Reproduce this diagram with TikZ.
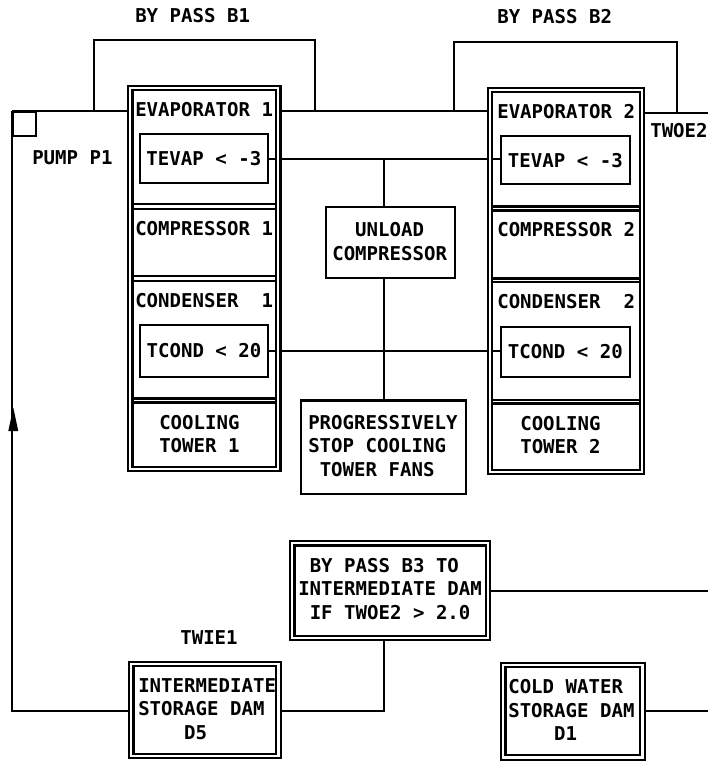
\documentclass[tikz,border=0pt]{standalone}
\usepackage{fontspec}
\newfontfamily\plotfont{DejaVu Sans Mono}
\usetikzlibrary{fit}
\pgfdeclarelayer{bg}
\pgfsetlayers{bg,main}
\tikzset{
  pipe/.style={line width=1.5pt},
  sbox/.style={draw, line width=1.7pt, inner sep=0pt},
  dbox/.style={draw, line width=1.6pt, double=white, double distance=1.6pt, inner sep=0pt},
  divline/.style={line width=1.6pt},
  lbl/.style={font=\plotfont\bfseries\fontsize{14.3}{17.6}\selectfont, inner sep=0pt},
  lblw/.style={lbl, anchor=west, align=left},
}
\begin{document}
\begin{tikzpicture}[x=0.75pt,y=-0.75pt]
\useasboundingbox (0,0) rectangle (708,763);
% ---------- boxes ----------
\node[dbox, fit={(130.3,88.2) (278.3,469.2)}] (col1) {};
\node[dbox, fit={(490.2,90.3) (641.7,471.7)}] (col2) {};
\node[sbox, line width=1.5pt, fit={(13.3,112.3) (36,136)}] (pump) {};
\node[sbox, fit={(140,134.3) (267.7,182.7)}] (tv1) {};
\node[sbox, fit={(500.7,136) (630,184.3)}] (tv2) {};
\node[sbox, fit={(140,325) (268,376.7)}] (tc1) {};
\node[sbox, fit={(500.7,326.7) (630,376.7)}] (tc2) {};
\node[sbox, fit={(326,207.3) (455,278.3)}] (unload) {};
\node[sbox, fit={(301,400.5) (466,494.3)}] (prog) {};
\node[dbox, fit={(292.3,543.3) (487.7,637.7)}] (b3) {};
\node[dbox, fit={(131.3,664) (278.5,756)}] (d5) {};
\node[dbox, fit={(503.3,665) (642.5,757.5)}] (d1) {};
% dividers inside the column boxes
\foreach \yy in {204.3,209.3,276.3,281,398.5,402.5}
  \draw[divline] (133.5,\yy) -- (275.2,\yy);
\foreach \yy in {206.5,210.5,278.5,282,400,403.5}
  \draw[divline] (493.4,\yy) -- (638.5,\yy);
% ---------- texts ----------
\node[lblw] (tby1) at (135,16) {BY PASS B1};
\node[lblw] (tby2) at (497,17) {BY PASS B2};
\node[lblw] (tev1) at (135,110) {EVAPORATOR 1};
\node[lbl] (ttv1) at (tv1) {TEVAP < -3};
\node[lblw] (tco1) at (135,229) {COMPRESSOR 1};
\node[lblw] (tcn1) at (135,301) {CONDENSER\hphantom{00}1};
\node[lbl] (ttc1) at (tc1) {TCOND < 20};
\node[lblw] (tct1) at (159,434) {COOLING\\TOWER 1};
\node[lblw] (tpump) at (32,158) {PUMP P1};
\node[lblw] (tunl) at (332,241.5) {\hphantom{00}UNLOAD\\COMPRESSOR};
\node[lblw] (tev2) at (497,112) {EVAPORATOR 2};
\node[lbl] (ttv2) at (tv2) {TEVAP < -3};
\node[lblw] (tco2) at (497,230) {COMPRESSOR 2};
\node[lblw] (tcn2) at (497,302) {CONDENSER\hphantom{00}2};
\node[lbl] (ttc2) at (tc2) {TCOND < 20};
\node[lblw] (tct2) at (520,435) {COOLING\\TOWER 2};
\node[lblw] (ttwoe) at (650,131) {TWOE2};
\node[lblw] (tprog) at (308,446) {PROGRESSIVELY\\STOP COOLING\\\hphantom{0}TOWER FANS};
\node[lblw] (tb3) at (298,589) {\hphantom{0}BY PASS B3 TO\\INTERMEDIATE DAM\\\hphantom{0}IF TWOE2 > 2.0};
\node[lbl] (ttwie) at (209,638) {TWIE1};
\node[lblw] (td5) at (138,709) {INTERMEDIATE\\STORAGE DAM\\\hphantom{0000}D5};
\node[lblw] (td1) at (508,710) {COLD WATER\\STORAGE DAM\\\hphantom{0000}D1};
% ---------- free ends and junctions ----------
\coordinate (rtop) at (708,113);
\coordinate (rb3) at (708,590.5);
\coordinate (rd1) at (708,711.25);
\coordinate (bp1a) at (94.3,40);
\coordinate (bp1b) at (315,40);
\coordinate (bp2a) at (454.3,41.7);
\coordinate (bp2b) at (676.7,41.7);
\coordinate (jv) at (384.3,159.5);
\coordinate (jc) at (384.3,351);
\coordinate (jd) at (384.3,711);
\coordinate (atip) at (13.3,407.7);
% ---------- connectors ----------
\begin{pgfonlayer}{bg}
\draw[pipe] (pump.north west) -- (col1.west |- pump.north west);
\draw[pipe] (col1.east |- pump.north west) -- (col2.west |- pump.north west);
\draw[pipe] (col2.east |- rtop) -- (rtop);
\draw[pipe] (bp1a |- pump.north west) -- (bp1a) -- (bp1b) -- (bp1b |- pump.north west);
\draw[pipe] (bp2a |- pump.north west) -- (bp2a) -- (bp2b) -- (bp2b |- rtop);
\draw[pipe] (pump.north west) -- (pump.north west |- jd) -- (d5.west |- jd);
\draw[pipe] (tv1.east |- jv) -- (tv2.west |- jv);
\draw[pipe] (jv) -- (jv |- unload.north);
\draw[pipe] (tc1.east |- jc) -- (tc2.west |- jc);
\draw[pipe] (jv |- unload.south) -- (jv |- prog.north);
\draw[pipe] (d5.east |- jd) -- (jd) -- (jd |- b3.south);
\draw[pipe] (b3.east |- rb3) -- (rb3);
\draw[pipe] (d1.east |- rd1) -- (rd1);
\end{pgfonlayer}
% arrow head on the return line
\fill (atip) -- ++(-5,23.3) -- ++(10,0) -- cycle;
\end{tikzpicture}
\end{document}
